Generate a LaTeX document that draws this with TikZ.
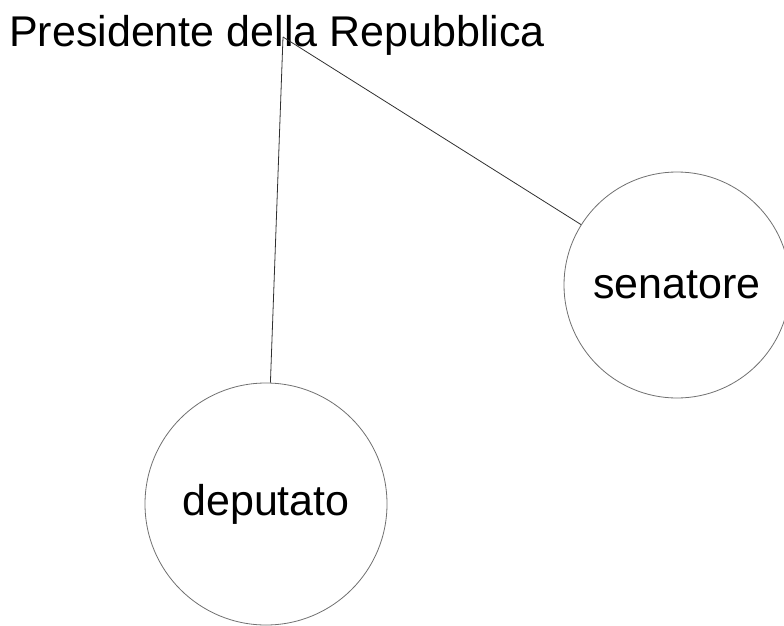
\documentclass[tikz,border=0pt]{standalone}
\usepackage{fontspec}
\setmainfont{Liberation Sans}
\usepackage{xcolor}
\usetikzlibrary{positioning}
\definecolor{rimgray}{HTML}{707070}
\definecolor{linkgray}{HTML}{303030}

\begin{document}
\begin{tikzpicture}[
  x=1pt, y=-1pt,
  font=\fontsize{43}{50}\selectfont,
  title/.style={anchor=base west, inner sep=0pt},
  role/.style={
    circle, draw=rimgray, fill=white,
    line width=0.8pt, inner sep=0pt
  },
  link/.style={draw=linkgray, line width=0.8pt},
]
\useasboundingbox (0,0) rectangle (784,626);

% Presidente
\node[title] (pres) at (9,47) {Presidente della Repubblica};
\coordinate (hub) at (283,37);

% Senatore
\node[role, minimum size=226pt] (sen) at (677,285) {senatore};

% Deputato
\node[role, minimum size=242pt] (dep) at (266,504) {deputato};

% Links
\draw[link] (hub) -- (sen);
\draw[link] (hub) -- (dep);

\end{tikzpicture}
\end{document}
